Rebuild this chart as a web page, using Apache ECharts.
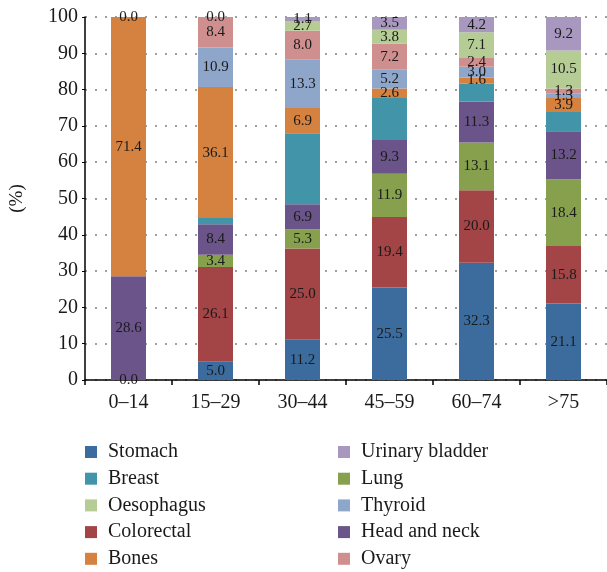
<!DOCTYPE html>
<html><head><meta charset="utf-8">
<script src="https://cdn.jsdelivr.net/npm/echarts@6/dist/echarts.min.js"></script>
<style>html,body{margin:0;padding:0;background:#fff}#c{width:607px;height:572px}</style>
</head><body><div id="c"></div>
<script>
var categories = ['0–14', '15–29', '30–44', '45–59', '60–74', '>75'];
var stomach    = [0, 5.0, 11.2, 25.5, 32.3, 21.1];
var colorectal = [null, 26.1, 25.0, 19.4, 20.0, 15.8];
var lung       = [null, 3.4, 5.3, 11.9, 13.1, 18.4];
var headNeck   = [28.6, 8.4, 6.9, 9.3, 11.3, 13.2];
var breast     = [null, 1.7, 19.6, 11.6, 5.0, 5.3];
var bones      = [71.4, 36.1, 6.9, 2.6, 1.6, 3.9];
var thyroid    = [null, 10.9, 13.3, 5.2, 3.0, 1.3];
var ovary      = [null, 8.4, 8.0, 7.2, 2.4, 1.3];
var oesophagus = [null, null, 2.7, 3.8, 7.1, 10.5];
var urinary    = [0, 0, 1.1, 3.5, 4.2, 9.2];
var yTicks = [0, 10, 20, 30, 40, 50, 60, 70, 80, 90, 100];

var FONT = '"Liberation Serif", "DejaVu Serif", serif';
var seriesDefs = [
  ['Stomach', stomach, '#3b6c9d', true],
  ['Colorectal', colorectal, '#a34446', true],
  ['Lung', lung, '#86a04d', true],
  ['Head and neck', headNeck, '#6b5489', true],
  ['Breast', breast, '#4295a9', false],
  ['Bones', bones, '#d5813f', true],
  ['Thyroid', thyroid, '#8fa6cb', true],
  ['Ovary', ovary, '#d08f8f', true],
  ['Oesophagus', oesophagus, '#b5cd95', true],
  ['Urinary bladder', urinary, '#a898bf', true]
];
var series = seriesDefs.map(function (d) {
  return {
    name: d[0], type: 'bar', stack: 'all', data: d[1], barWidth: 35,
    itemStyle: { color: d[2] },
    label: {
      show: d[3], position: 'inside', color: '#1a1a1a', fontFamily: FONT, fontSize: 15,
      formatter: function (p) { return p.value == null ? '' : Number(p.value).toFixed(1); }
    }
  };
});
var legendText = { fontFamily: FONT, fontSize: 20, color: '#1a1a1a', padding: [0, 0, 0, 6] };
var chart = echarts.init(document.getElementById('c'));
chart.setOption({
  animation: false,
  grid: { left: 84, right: -2, top: 17, bottom: 192 },
  legend: [
    { orient: 'vertical', left: 80, top: 437, height: 140, itemWidth: 12, itemHeight: 12, itemGap: 6.7, icon: 'rect',
      data: ['Stomach', 'Breast', 'Oesophagus', 'Colorectal', 'Bones'], textStyle: legendText },
    { orient: 'vertical', left: 333, top: 437, height: 140, itemWidth: 12, itemHeight: 12, itemGap: 6.7, icon: 'rect',
      data: ['Urinary bladder', 'Lung', 'Thyroid', 'Head and neck', 'Ovary'], textStyle: legendText }
  ],
  xAxis: {
    type: 'category', data: categories,
    axisLine: { lineStyle: { color: '#000', width: 1.5 } },
    axisTick: { show: true, alignWithLabel: false, length: 5, lineStyle: { color: '#000', width: 1.5 } },
    axisLabel: { fontFamily: FONT, fontSize: 20, color: '#1a1a1a', margin: 13 }
  },
  yAxis: {
    type: 'value', min: 0, max: 100, interval: 10,
    name: '(%)', nameLocation: 'middle', nameGap: 58, nameRotate: 90,
    nameTextStyle: { fontFamily: FONT, fontSize: 19, color: '#1a1a1a' },
    axisLine: { show: true, lineStyle: { color: '#000', width: 1.5 } },
    axisTick: { show: true, length: 3, lineStyle: { color: '#000' } },
    axisLabel: { fontFamily: FONT, fontSize: 20, color: '#1a1a1a', margin: 7,
      formatter: function (v) { return yTicks.indexOf(v) >= 0 ? String(v) : ''; } },
    splitLine: { show: true, lineStyle: { color: '#808080', type: [2, 8], width: 1.5 } }
  },
  series: series
});
</script></body></html>
